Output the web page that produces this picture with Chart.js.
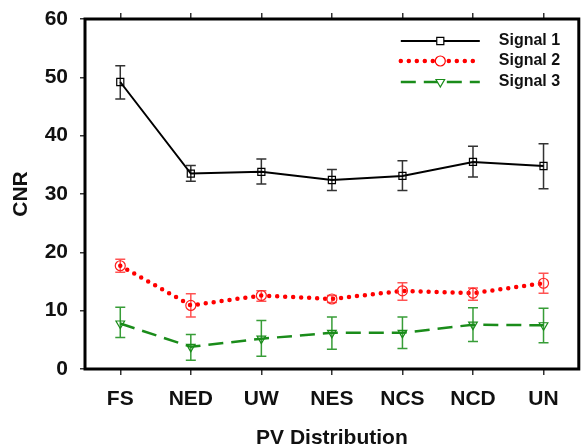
<!DOCTYPE html>
<html>
<head>
<meta charset="utf-8">
<script src="https://cdn.jsdelivr.net/npm/chart.js@4.4.1/dist/chart.umd.min.js"></script>
<style>
    html, body { margin: 0; padding: 0; background: #fff; }
    #wrap { width: 585px; height: 446px; position: relative; }
</style>
</head>
<body>
<div id="wrap"><canvas id="cnr-chart"></canvas></div>
<script>
// --- Data ---
const categories = ['FS', 'NED', 'UW', 'NES', 'NCS', 'NCD', 'UN'];
const yMin = 0;
const yMax = 60;
const yStep = 10;

// Mean CNR per distribution
const signal1 = [49.2, 33.5, 33.8, 32.4, 33.1, 35.5, 34.8];
const signal2 = [17.7, 10.9, 12.6, 12.0, 13.4, 13.0, 14.7];
const signal3 = [7.8, 3.8, 5.2, 6.2, 6.2, 7.6, 7.5];

// Error bar ends (upper / lower)
const signal1Hi = [52.0, 34.9, 36.0, 34.2, 35.7, 38.2, 38.6];
const signal1Lo = [46.3, 32.2, 31.7, 30.6, 30.6, 32.9, 30.9];
const signal2Hi = [18.8, 12.9, 13.4, 12.6, 14.8, 13.9, 16.4];
const signal2Lo = [16.6, 8.9, 11.6, 11.4, 11.8, 11.8, 13.0];
const signal3Hi = [10.6, 5.9, 8.3, 8.9, 8.9, 10.5, 10.4];
const signal3Lo = [5.4, 1.5, 2.2, 3.4, 3.5, 4.7, 4.5];

const FONT = '"Liberation Sans", Arial, sans-serif';
const GREEN = '#1a8c1a';

// Draws vertical error bars using the y scale
const errorBars = {
    id: 'errorBars',
    beforeDatasetsDraw(chart) {
        const ctx = chart.ctx;
        const yScale = chart.scales.y;
        chart.data.datasets.forEach((ds, i) => {
            const meta = chart.getDatasetMeta(i);
            ctx.save();
            ctx.strokeStyle = ds.errColor;
            ctx.lineWidth = 1.5;
            meta.data.forEach((pt, j) => {
                const top = yScale.getPixelForValue(ds.errHi[j]);
                const bot = yScale.getPixelForValue(ds.errLo[j]);
                ctx.beginPath();
                ctx.moveTo(pt.x, top);
                ctx.lineTo(pt.x, bot);
                ctx.moveTo(pt.x - 5, top);
                ctx.lineTo(pt.x + 5, top);
                ctx.moveTo(pt.x - 5, bot);
                ctx.lineTo(pt.x + 5, bot);
                ctx.stroke();
            });
            ctx.restore();
        });
    }
};

// Frame around plot area + legend inside top right
const frameAndLegend = {
    id: 'frameAndLegend',
    afterDraw(chart) {
        const ctx = chart.ctx;
        const area = chart.chartArea;
        ctx.save();
        ctx.strokeStyle = '#000';
        ctx.lineWidth = 3;
        ctx.strokeRect(area.left, area.top, area.right - area.left, area.bottom - area.top);

        const x0 = area.right - 178;
        const x1 = area.right - 99;
        const xm = (x0 + x1) / 2;
        const rows = [22, 42, 63];
        chart.data.datasets.forEach((ds, i) => {
            const y = area.top + rows[i];
            ctx.save();
            ctx.strokeStyle = ds.borderColor;
            ctx.lineWidth = ds.borderWidth;
            ctx.lineCap = ds.borderCapStyle || 'butt';
            ctx.setLineDash(ds.borderDash || []);
            ctx.beginPath();
            ctx.moveTo(x0, y);
            ctx.lineTo(x1, y);
            ctx.stroke();
            ctx.setLineDash([]);
            ctx.lineWidth = ds.pointBorderWidth;
            ctx.fillStyle = '#fff';
            Chart.helpers.drawPoint(ctx, {
                pointStyle: ds.pointStyle,
                radius: ds.pointRadius,
                rotation: ds.pointRotation || 0,
                borderWidth: ds.pointBorderWidth
            }, xm, y);
            ctx.restore();

            ctx.fillStyle = '#111';
            ctx.font = 'bold 16px ' + FONT;
            ctx.textBaseline = 'middle';
            ctx.textAlign = 'left';
            ctx.fillText(ds.label, area.right - 80, y);
        });
        ctx.restore();
    }
};

const tickGrid = {
    display: true,
    drawOnChartArea: false,
    drawTicks: true,
    tickLength: 6,
    color: '#333',
    lineWidth: 1.5
};

new Chart(document.getElementById('cnr-chart'), {
    type: 'line',
    data: {
        labels: categories,
        datasets: [
            {
                label: 'Signal 1',
                data: signal1,
                errHi: signal1Hi,
                errLo: signal1Lo,
                errColor: '#333',
                borderColor: '#000',
                borderWidth: 2,
                pointStyle: 'rect',
                pointRadius: 5,
                pointBorderWidth: 1.2,
                pointBackgroundColor: 'transparent',
                pointBorderColor: '#000',
                tension: 0
            },
            {
                label: 'Signal 2',
                data: signal2,
                errHi: signal2Hi,
                errLo: signal2Lo,
                errColor: 'rgba(255, 40, 40, 0.8)',
                borderColor: '#ff0000',
                borderWidth: 4.5,
                borderDash: [0, 8],
                borderCapStyle: 'round',
                pointStyle: 'circle',
                pointRadius: 5,
                pointBorderWidth: 1.2,
                pointBackgroundColor: 'transparent',
                pointBorderColor: '#ff2020',
                tension: 0
            },
            {
                label: 'Signal 3',
                data: signal3,
                errHi: signal3Hi,
                errLo: signal3Lo,
                errColor: 'rgba(20, 140, 20, 0.85)',
                borderColor: GREEN,
                borderWidth: 2.5,
                borderDash: [15, 8],
                pointStyle: 'triangle',
                pointRotation: 180,
                pointRadius: 5,
                pointBorderWidth: 1.2,
                pointBackgroundColor: 'transparent',
                pointBorderColor: GREEN,
                tension: 0
            }
        ]
    },
    options: {
        responsive: true,
        maintainAspectRatio: false,
        animation: false,
        layout: { padding: { right: 2 } },
        plugins: {
            legend: { display: false },
            tooltip: { enabled: false }
        },
        scales: {
            x: {
                type: 'category',
                position: 'bottom',
                offset: true,
                grid: tickGrid,
                border: { display: false },
                ticks: {
                    font: { family: FONT, size: 21, weight: 'bold' },
                    color: '#111',
                    padding: 12,
                    maxRotation: 0,
                    autoSkip: false
                },
                title: {
                    display: true,
                    text: 'PV Distribution',
                    font: { family: FONT, size: 21, weight: 'bold' },
                    color: '#111',
                    padding: { top: 0, bottom: -4.5 }
                },
                afterFit: s => { s.height = 77; }
            },
            xTop: {
                type: 'category',
                position: 'top',
                offset: true,
                labels: categories,
                grid: tickGrid,
                border: { display: false },
                ticks: { display: false },
                afterFit: s => { s.height = 19; }
            },
            y: {
                min: yMin,
                max: yMax,
                grid: Object.assign({}, tickGrid, { tickLength: 5 }),
                border: { display: false },
                ticks: {
                    stepSize: yStep,
                    font: { family: FONT, size: 21, weight: 'bold' },
                    color: '#111',
                    padding: 12
                },
                title: {
                    display: true,
                    text: 'CNR',
                    font: { family: FONT, size: 21, weight: 'bold' },
                    color: '#111',
                    padding: { top: 9, bottom: 0 }
                },
                afterFit: s => {
                    s.width = 85;
                    s.paddingTop = 0;
                    s.paddingBottom = 0;
                }
            }
        }
    },
    plugins: [errorBars, frameAndLegend]
});
</script>
</body>
</html>
